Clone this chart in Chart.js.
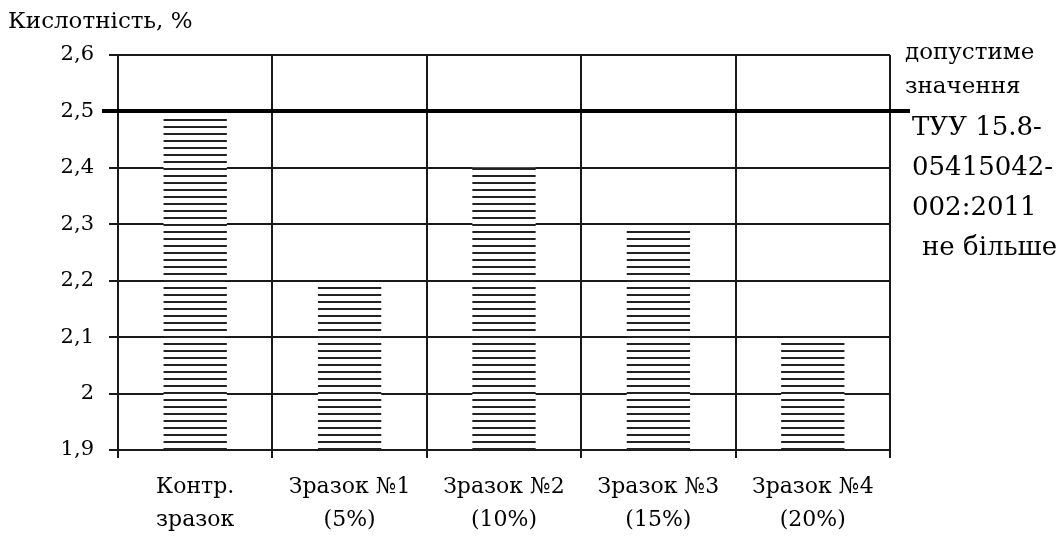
<!DOCTYPE html>
<html>
<head>
<meta charset="utf-8">
<script src="https://cdn.jsdelivr.net/npm/chart.js@4.4.1/dist/chart.umd.min.js"></script>
<style>
html,body{margin:0;padding:0;background:#fff;}
#wrap{width:1064px;height:537px;position:relative;}
</style>
</head>
<body>
<div id="wrap"><canvas id="c" width="1064" height="537"></canvas></div>
<script>
const categories = [["Контр.", "зразок"], ["Зразок №1", "(5%)"], ["Зразок №2", "(10%)"], ["Зразок №3", "(15%)"], ["Зразок №4", "(20%)"]];
const acidity = [2.49, 2.19, 2.40, 2.29, 2.10];
const limitValue = 2.5;
const yTitle = "Кислотність, %";
const limitLabelTop = ["допустиме", "значення"];
const limitLabelStd = ["ТУУ 15.8-", "05415042-", "002:2011", "не більше"];

const FONT = '"DejaVu Serif", "Liberation Serif", serif';

function makePattern() {
  const p = document.createElement('canvas');
  p.width = 8; p.height = 7;
  const g = p.getContext('2d');
  g.fillStyle = '#fff'; g.fillRect(0, 0, 8, 7);
  g.fillStyle = '#222'; g.fillRect(0, 0, 8, 2);
  return document.getElementById('c').getContext('2d').createPattern(p, 'repeat');
}

const annot = {
  id: 'annot',
  afterDatasetsDraw(chart) {
    const ctx = chart.ctx, y = chart.scales.y, area = chart.chartArea;
    const yp = Math.round(y.getPixelForValue(limitValue));
    ctx.save();
    ctx.strokeStyle = '#000'; ctx.lineWidth = 4;
    ctx.beginPath(); ctx.moveTo(area.left - 16, yp); ctx.lineTo(area.right + 20, yp); ctx.stroke();
    ctx.fillStyle = '#000';
    ctx.textBaseline = 'middle'; ctx.textAlign = 'left';
    ctx.font = '23px ' + FONT;
    ctx.fillText(yTitle, 8, 22);
    ctx.font = '23px ' + FONT;
    limitLabelTop.forEach((t, i) => ctx.fillText(t, 905, 53 + i * 34));
    ctx.font = '26px ' + FONT;
    limitLabelStd.forEach((t, i) => ctx.fillText(t, i === 3 ? 922 : 912, 128 + i * 40));
    ctx.restore();
  }
};

new Chart(document.getElementById('c'), {
  type: 'bar',
  data: {
    labels: categories,
    datasets: [{
      data: acidity,
      backgroundColor: makePattern(),
      borderWidth: 0,
      barPercentage: 0.41,
      categoryPercentage: 1
    }]
  },
  options: {
    responsive: false,
    animation: false,
    events: [],
    layout: { padding: { top: 55, right: 174, left: 0, bottom: 0 } },
    plugins: { legend: { display: false }, tooltip: { enabled: false } },
    scales: {
      y: {
        min: 1.9, max: 2.6,
        ticks: {
          stepSize: 0.1, color: '#000', padding: 15,
          font: { family: FONT, size: 21 },
          callback: v => (Math.round(v * 10) / 10).toString().replace('.', ',')
        },
        grid: { color: '#1a1a1a', lineWidth: 2, tickLength: 9 },
        border: { color: '#1a1a1a', width: 2 },
        afterFit(s) { s.width = 118; }
      },
      x: {
        offset: true,
        ticks: {
          color: '#000', padding: 13,
          font: { family: FONT, size: 22, lineHeight: 1.5 },
          maxRotation: 0
        },
        grid: { color: '#1a1a1a', lineWidth: 2, offset: true, tickLength: 8 },
        border: { color: '#1a1a1a', width: 2 },
        afterFit(s) { s.height = 87; }
      }
    }
  },
  plugins: [annot]
});
</script>
</body>
</html>
